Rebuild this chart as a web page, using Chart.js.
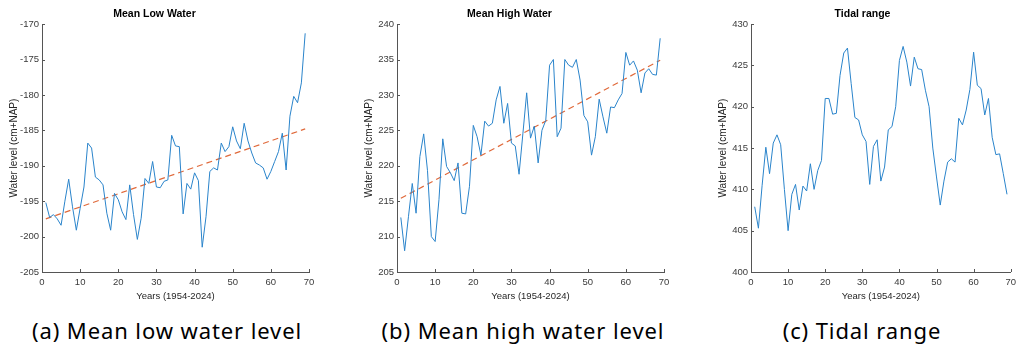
<!DOCTYPE html>
<html>
<head>
<meta charset="utf-8">
<script src="https://cdn.jsdelivr.net/npm/chart.js@4.4.1/dist/chart.umd.min.js"></script>
<style>
  html, body { margin: 0; padding: 0; background: #fff; overflow: hidden; }
  .panel { position: absolute; top: 0; }
  .caption { position: absolute; top: 319px; font-family: 'Noto Sans', sans-serif; font-size: 22px; line-height: 22px; letter-spacing: 0.9px; color: #000; transform: translateX(-50%); white-space: nowrap; }
</style>
</head>
<body>
<canvas id="lowChart" class="panel" style="left:0px" width="340" height="305"></canvas>
<canvas id="highChart" class="panel" style="left:355px" width="340" height="305"></canvas>
<canvas id="rangeChart" class="panel" style="left:709px" width="312" height="305"></canvas>
<div class="caption" style="left:167px">(a) Mean low water level</div>
<div class="caption" style="left:523px">(b) Mean high water level</div>
<div class="caption" style="left:862px">(c) Tidal range</div>
<script>
// years since 1954
const years = [1, 2, 3, 4, 5, 6, 7, 8, 9, 10, 11, 12, 13, 14, 15, 16, 17, 18, 19, 20,
  21, 22, 23, 24, 25, 26, 27, 28, 29, 30, 31, 32, 33, 34, 35, 36, 37, 38, 39, 40,
  41, 42, 43, 44, 45, 46, 47, 48, 49, 50, 51, 52, 53, 54, 55, 56, 57, 58, 59, 60,
  61, 62, 63, 64, 65, 66, 67, 68, 69];

const meanLowWater = [-195.2, -197.3, -196.9, -197.5, -198.4, -195.0, -191.9, -195.8, -199.1, -196.0,
  -193.0, -186.8, -187.5, -191.6, -192.0, -192.7, -196.7, -199.1, -193.9, -194.8,
  -196.5, -197.6, -192.7, -196.9, -200.4, -197.4, -191.8, -192.5, -189.4, -193.0,
  -193.1, -192.2, -192.0, -185.7, -187.2, -187.3, -196.8, -192.5, -193.3, -191.0,
  -192.1, -201.5, -197.2, -190.8, -190.3, -190.6, -186.8, -188.0, -187.3, -184.5,
  -186.5, -187.6, -184.0, -186.5, -188.2, -189.6, -189.9, -190.3, -191.9, -190.8,
  -189.4, -188.0, -185.4, -190.6, -183.0, -180.2, -181.1, -178.3, -171.3];

const meanHighWater = [212.7, 208.0, 212.8, 217.5, 213.3, 221.3, 224.5, 219.3, 210.0, 209.3,
  215.2, 223.8, 219.9, 219.0, 217.9, 220.4, 213.3, 213.2, 217.1, 225.7,
  224.1, 221.5, 226.3, 225.6, 226.0, 229.3, 231.2, 226.0, 228.8, 223.2,
  222.8, 218.8, 224.5, 230.3, 223.9, 225.6, 220.4, 225.0, 226.4, 234.2,
  235.0, 224.1, 225.3, 235.0, 234.2, 233.9, 235.0, 232.1, 227.1, 226.2,
  221.5, 224.1, 229.4, 226.9, 224.6, 228.3, 228.2, 229.3, 230.2, 236.0,
  234.2, 234.8, 233.5, 230.3, 233.1, 233.7, 232.9, 232.8, 238.0];

const tidalRange = [407.9, 405.3, 410.5, 415.1, 411.9, 415.6, 416.6, 415.4, 410.0, 405.0,
  409.4, 410.6, 407.5, 410.4, 409.8, 413.1, 410.0, 412.3, 413.5, 421.0,
  421.0, 419.1, 419.2, 423.8, 426.5, 427.1, 422.8, 418.7, 418.4, 416.6,
  415.8, 410.6, 415.2, 416.0, 411.0, 412.7, 417.2, 417.6, 420.0, 425.6,
  427.3, 425.4, 422.5, 426.0, 424.6, 424.5, 422.0, 420.0, 415.0, 411.5,
  408.1, 411.0, 413.3, 413.7, 413.3, 418.6, 417.8, 419.6, 422.1, 426.6,
  422.6, 422.2, 419.0, 421.0, 416.3, 414.2, 414.3, 411.9, 409.4];

// linear trend, start and end values (x = 1 and x = 69)
const trendYears = [1, 69];
const lowTrend = [-197.5, -184.8];
const highTrend = [215.4, 234.9];

const xTicks = [0, 10, 20, 30, 40, 50, 60, 70];
const lowTicks = [-205, -200, -195, -190, -185, -180, -175, -170];
const highTicks = [205, 210, 215, 220, 225, 230, 235, 240];
const rangeTicks = [400, 405, 410, 415, 420, 425, 430];

const axisColor = '#555555';
const textColor = '#3a3a3a';
const lineBlue = '#2a84cb';
const trendOrange = '#e0693a';
const fontFamily = "'Liberation Sans', Arial, sans-serif";

// MATLAB style ticks pointing into the plot
const inwardTicks = {
    id: 'inwardTicks',
    afterDraw(chart) {
        const ctx = chart.ctx;
        const area = chart.chartArea;
        const xs = chart.scales.x;
        const ys = chart.scales.y;
        ctx.save();
        ctx.strokeStyle = axisColor;
        ctx.lineWidth = 1;
        xs.ticks.forEach(t => {
            const px = Math.round(xs.getPixelForValue(t.value)) + 0.5;
            ctx.beginPath();
            ctx.moveTo(px, area.bottom);
            ctx.lineTo(px, area.bottom - 3);
            ctx.stroke();
        });
        ys.ticks.forEach(t => {
            const py = Math.round(ys.getPixelForValue(t.value)) + 0.5;
            ctx.beginPath();
            ctx.moveTo(area.left, py);
            ctx.lineTo(area.left + 3, py);
            ctx.stroke();
        });
        ctx.restore();
    }
};

function toPoints(xs, ys) {
    return xs.map((x, i) => ({x: x, y: ys[i]}));
}

function makeChart(id, title, values, trend, yTicks, padRight) {
    const datasets = [{
        data: toPoints(years, values),
        borderColor: lineBlue,
        borderWidth: 1,
        pointRadius: 0,
        fill: false,
        tension: 0
    }];
    if (trend) {
        datasets.push({
            data: toPoints(trendYears, trend),
            borderColor: trendOrange,
            borderWidth: 1.2,
            borderDash: [6, 4],
            pointRadius: 0,
            fill: false
        });
    }
    const ctx = document.getElementById(id).getContext('2d');
    return new Chart(ctx, {
        type: 'line',
        data: {datasets: datasets},
        plugins: [inwardTicks],
        options: {
            responsive: false,
            animation: false,
            layout: {padding: {left: 0, right: padRight, top: 0, bottom: 0}},
            plugins: {
                legend: {display: false},
                tooltip: {enabled: false},
                title: {
                    display: true,
                    text: title,
                    color: '#000',
                    font: {family: fontFamily, size: 10.5, weight: 'bold', lineHeight: 1.2},
                    padding: {top: 8, bottom: 3.5}
                }
            },
            scales: {
                x: {
                    type: 'linear',
                    min: xTicks[0],
                    max: xTicks[xTicks.length - 1],
                    afterBuildTicks: s => { s.ticks = xTicks.map(v => ({value: v})); },
                    afterFit: s => { s.height = 33; },
                    grid: {display: true, drawOnChartArea: false, drawTicks: false},
                    border: {display: true, color: axisColor, width: 1},
                    ticks: {color: textColor, font: {family: fontFamily, size: 9.5}, padding: 5, maxRotation: 0},
                    title: {
                        display: true,
                        text: 'Years (1954-2024)',
                        color: '#262626',
                        font: {family: fontFamily, size: 9.5, lineHeight: 1.2},
                        padding: {top: 0, bottom: 3}
                    }
                },
                y: {
                    min: yTicks[0],
                    max: yTicks[yTicks.length - 1],
                    afterBuildTicks: s => { s.ticks = yTicks.map(v => ({value: v})); },
                    afterFit: s => { s.width = 42; },
                    grid: {display: true, drawOnChartArea: false, drawTicks: false},
                    border: {display: true, color: axisColor, width: 1},
                    ticks: {color: textColor, font: {family: fontFamily, size: 9.5}, padding: 3},
                    title: {
                        display: true,
                        text: 'Water level (cm+NAP)',
                        color: '#262626',
                        font: {family: fontFamily, size: 10, lineHeight: 1.2},
                        padding: {top: 8, bottom: 0}
                    }
                }
            }
        }
    });
}

makeChart('lowChart', 'Mean Low Water', meanLowWater, lowTrend, lowTicks, 31);
makeChart('highChart', 'Mean High Water', meanHighWater, highTrend, highTicks, 31);
makeChart('rangeChart', 'Tidal range', tidalRange, null, rangeTicks, 5);
</script>
</body>
</html>
